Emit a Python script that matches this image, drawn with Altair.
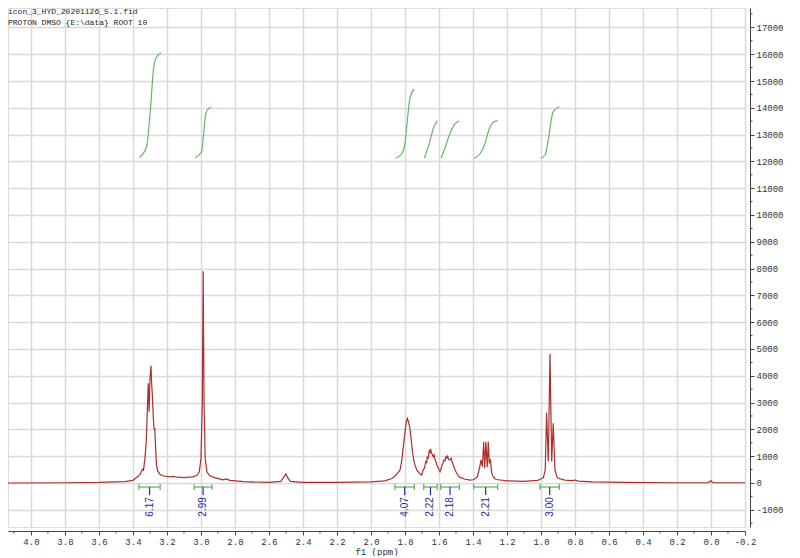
import altair as alt
import pandas as pd

# ---- spectrum (ppm, intensity) ----
spec_ppm = [4.135, 3.8, 3.6, 3.45, 3.40, 3.37, 3.36, 3.35, 3.343, 3.338, 3.33, 3.322, 3.314, 3.310,
            3.305, 3.300, 3.294, 3.290, 3.286, 3.279, 3.275, 3.272, 3.268, 3.262, 3.255, 3.24,
            3.22, 3.18, 3.165, 3.15, 3.10, 3.05, 3.025, 3.01, 3.0, 2.992, 2.987, 2.982, 2.975,
            2.965, 2.95, 2.92, 2.87, 2.85, 2.83, 2.75, 2.6, 2.53, 2.515, 2.50, 2.49, 2.475, 2.4,
            2.2, 2.0, 1.92, 1.88, 1.86, 1.84, 1.829, 1.82, 1.81, 1.80, 1.792, 1.786, 1.778, 1.771,
            1.763, 1.755, 1.745, 1.731, 1.715, 1.702, 1.692, 1.685, 1.678, 1.672, 1.669, 1.663,
            1.657, 1.653, 1.649, 1.644, 1.640, 1.634, 1.629, 1.624, 1.618, 1.611, 1.604, 1.594,
            1.588, 1.582, 1.577, 1.571, 1.565, 1.559, 1.554, 1.549, 1.544, 1.539, 1.533, 1.528,
            1.522, 1.516, 1.508, 1.50, 1.49, 1.476, 1.45, 1.418, 1.40, 1.388, 1.374, 1.362, 1.353,
            1.345, 1.337, 1.331, 1.324, 1.316, 1.31, 1.304, 1.298, 1.29, 1.281, 1.27, 1.261, 1.2,
            1.1, 1.02, 1.0, 0.986, 0.975, 0.967, 0.957, 0.947, 0.937, 0.928, 0.918, 0.905, 0.898,
            0.86, 0.82, 0.80, 0.78, 0.7, 0.5, 0.2, 0.02, 0.005, 0.0, -0.005, -0.02, -0.2]
spec_int = [0, 10, 20, 50, 100, 250, 300, 450, 520, 480, 900, 1500, 3000, 3720,
            2660, 3900, 4370, 3700, 3280, 2300, 1980, 2050, 1500, 700, 450, 320,
            260, 230, 250, 230, 200, 230, 280, 420, 900, 3000, 7900, 3000, 900,
            420, 280, 200, 120, 150, 100, 50, 20, 60, 200, 340, 200, 60, 20,
            20, 40, 80, 160, 250, 400, 485, 800, 1350, 1900, 2300, 2410, 2250, 2040,
            1600, 1110, 750, 485, 360, 300, 500, 560, 800, 760, 960, 930,
            1230, 1150, 1270, 1100, 1080, 980, 1045, 880, 800, 650, 550, 420,
            520, 670, 740, 860, 830, 980, 930, 1000, 880, 860, 870, 920,
            780, 670, 530, 420, 300, 210, 150, 110, 120, 160, 235, 550, 860,
            610, 1540, 550, 1540, 590, 1540, 735, 880, 360, 235, 160, 130, 80,
            60, 100, 150, 200, 485, 2620, 800, 4810, 800, 2230, 485, 220, 175,
            110, 90, 110, 70, 40, 20, 10, 10, 60, 90, 40, 10, 10]

# ---- integral curves (green) ----
curve_ppm = [
    [3.363, 3.32, 3.296, 3.28, 3.265, 3.235],
    [3.035, 2.996, 2.986, 2.973, 2.963, 2.941],
    [1.855, 1.82, 1.80, 1.786, 1.771, 1.747],
    [1.686, 1.657, 1.633, 1.61],
    [1.588, 1.565, 1.535, 1.506, 1.481],
    [1.394, 1.359, 1.329, 1.31, 1.281, 1.255],
    [1.002, 0.976, 0.957, 0.943, 0.928, 0.892],
]
curve_val = [
    [12138, 12549, 14041, 15410, 15847, 16056],
    [12138, 12362, 12922, 13731, 13918, 14018],
    [12116, 12276, 12675, 13545, 14354, 14701],
    [12116, 12675, 13235, 13519],
    [12116, 12489, 13048, 13396, 13519],
    [12116, 12276, 12675, 13108, 13458, 13519],
    [12116, 12239, 12799, 13421, 13856, 14041],
]

# ---- integration brackets ----
int_start = [3.365, 3.04, 1.859, 1.69, 1.59, 1.396, 1.006]
int_end = [3.24, 2.935, 1.745, 1.61, 1.48, 1.255, 0.892]
int_labels = ["6.17", "2.99", "4.07", "2.22", "2.18", "2.21", "3.00"]

header_lines = ["icon_3_HYD_20201126_5.1.fid", "PROTON DMSO {E:\\data} ROOT 10"]

x_major = [round(4.0 - 0.2 * i, 1) for i in range(22)]
x_minor = [round(4.1 - 0.2 * i, 1) for i in range(22)]
y_major = [-1000 + 1000 * i for i in range(19)]
y_minor = [-1500 + 1000 * i for i in range(20)]

FONT = "Liberation Mono"
RED = "#a8302f"
GREEN = "#6ab46a"
BLUE = "#2a2a9c"
AXC = "#444444"

Y_LO, Y_HI = -1642, 17724
X_LO, X_HI = 4.135, -0.2
PX_Y = (Y_HI - Y_LO) / 519.0     # data units per pixel (y)
PX_X = (X_LO - X_HI) / 737.0     # ppm per pixel (x)

xscale = alt.Scale(domain=[X_LO, X_HI], nice=False, zero=False)
yscale = alt.Scale(domain=[Y_LO, Y_HI], nice=False, zero=False)

xaxis = alt.Axis(
    values=x_major, tickCount=100,
    labelExpr="replace(format(datum.value, '.1f'), '\u2212', '-')",
    grid=True, gridColor="#dadada", gridWidth=1.5,
    tickSize=4, tickColor=AXC, domainColor=AXC, offset=4,
    labelFont=FONT, labelFontSize=9, labelColor="#333", labelPadding=2,
    labelOverlap=False, labelFlush=False,
    title="f1 (ppm)", titleFont=FONT, titleFontSize=9, titleFontWeight="normal",
    titleColor="#333", titlePadding=1,
)
yaxis = alt.Axis(
    orient="right",
    values=y_major, tickCount=100,
    labelExpr="replace(format(datum.value, 'd'), '\u2212', '-')",
    grid=True, gridColor="#dadada", gridWidth=1.5,
    tickSize=4, tickColor=AXC, domainColor=AXC, offset=5,
    labelFont=FONT, labelFontSize=9, labelColor="#333", labelPadding=2,
    labelOverlap=False, labelFlush=False, title=None,
)

spec_df = pd.DataFrame({"ppm": spec_ppm, "val": spec_int})
spectrum = alt.Chart(spec_df).mark_line(color=RED, strokeWidth=1.2, clip=True).encode(
    x=alt.X("ppm:Q", scale=xscale, axis=xaxis),
    y=alt.Y("val:Q", scale=yscale, axis=yaxis),
)

rows = []
for i, (pp, vv) in enumerate(zip(curve_ppm, curve_val)):
    for p, v in zip(pp, vv):
        rows.append({"ppm": p, "val": v, "curve": i})
curve_df = pd.DataFrame(rows)
curves = alt.Chart(curve_df).mark_line(
    color=GREEN, strokeWidth=1.2, clip=True, interpolate="monotone"
).encode(
    x=alt.X("ppm:Q", scale=xscale),
    y=alt.Y("val:Q", scale=yscale),
    detail="curve:N",
)

br_df = pd.DataFrame({
    "start": int_start,
    "end": int_end,
    "center": [(a + b) / 2 for a, b in zip(int_start, int_end)],
    "label": int_labels,
})
bars = alt.Chart(br_df).mark_rule(color=GREEN, strokeWidth=1.3).encode(
    x=alt.X("start:Q", scale=xscale), x2="end:Q", y=alt.datum(-150, scale=yscale)
)
cap_df = pd.DataFrame({"ppm": int_start + int_end})
caps = alt.Chart(cap_df).mark_rule(color=GREEN, strokeWidth=1.3).encode(
    x=alt.X("ppm:Q", scale=xscale), y=alt.datum(-40, scale=yscale), y2=alt.datum(-260)
)
ticks = alt.Chart(br_df).mark_rule(color=BLUE, strokeWidth=1.2).encode(
    x=alt.X("center:Q", scale=xscale), y=alt.datum(-150, scale=yscale), y2=alt.datum(-450)
)
labels = alt.Chart(br_df).mark_text(
    color=BLUE, angle=270, align="right", baseline="middle",
    font="Liberation Sans", fontSize=10,
).encode(
    x=alt.X("center:Q", scale=xscale), y=alt.datum(-530, scale=yscale), text="label:N"
)

# minor ticks (outside the plot area, below the x axis / right of the y axis)
xminor_df = pd.DataFrame({"ppm": x_minor})
xminor = alt.Chart(xminor_df).mark_rule(color=AXC, strokeWidth=1).encode(
    x=alt.X("ppm:Q", scale=xscale),
    y=alt.datum(Y_LO - 4 * PX_Y, scale=yscale),
    y2=alt.datum(Y_LO - 6.5 * PX_Y),
)
yminor_df = pd.DataFrame({"val": y_minor})
yminor = alt.Chart(yminor_df).mark_rule(color=AXC, strokeWidth=1).encode(
    y=alt.Y("val:Q", scale=yscale),
    x=alt.datum(X_HI - 5 * PX_X, scale=xscale),
    x2=alt.datum(X_HI - 7.5 * PX_X),
)

header = alt.Chart(pd.DataFrame({"a": [0]})).mark_text(
    text=header_lines, align="left", baseline="top", font=FONT, fontSize=8,
    lineHeight=11, color="#222",
).encode(x=alt.value(0), y=alt.value(0))

chart = alt.layer(spectrum, curves, bars, caps, ticks, labels, xminor, yminor, header).properties(
    width=737, height=519
).configure_view(stroke=None).configure(background="white", padding=0)

chart.save("out.html", embed_options={"renderer": "svg", "actions": False})
